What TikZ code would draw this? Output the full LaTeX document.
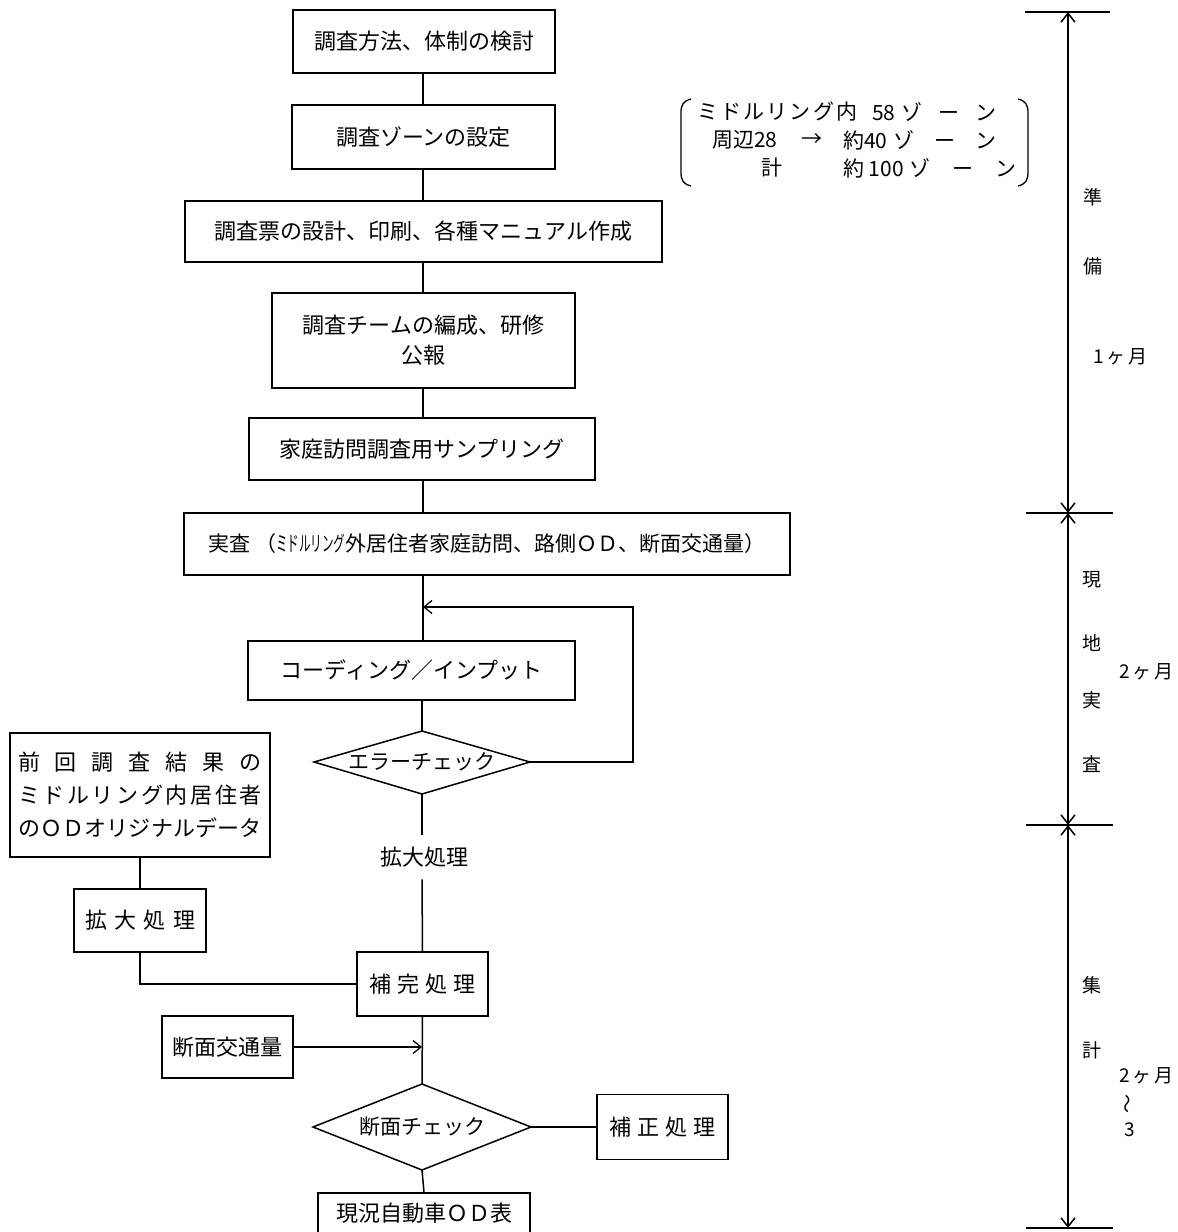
\documentclass[tikz,border=0pt]{standalone}
\usepackage{fontspec}
\setmainfont{Noto Sans CJK JP}
\usetikzlibrary{arrows.meta}
\begin{document}
\begin{tikzpicture}[x=1pt,y=-1pt,
  every node/.style={font=\fontsize{22}{30}\selectfont, inner sep=0pt},
  box/.style={draw, line width=1.5pt, align=center},
  dtext/.style={font=\fontsize{21}{26}\selectfont},
  conn/.style={line width=1.5pt},
  arr/.style={line width=1.3pt, -{Straight Barb[length=8pt,width=13pt]}},
  tlarr/.style={line width=1.5pt, {Straight Barb[length=9pt,width=14pt]}-{Straight Barb[length=9pt,width=14pt]}},
  tick/.style={line width=1.2pt},
  tlab/.style={font=\fontsize{19}{22}\selectfont},
  brk/.style={font=\fontsize{21}{24}\selectfont, anchor=west}]
\useasboundingbox (0,0) rectangle (1178,1232);
\fill[white] (0,0) rectangle (1178,1232);
\coordinate (ax) at (423,0);

% main flow boxes
\node[box, minimum width=262pt, minimum height=63pt] (b1) at (424,41.5) {調査方法、体制の検討};
\node[box, minimum width=263pt, minimum height=64pt] (b2) at (423.5,137) {調査ゾーンの設定};
\node[box, minimum width=477pt, minimum height=61pt] (b3) at (423.5,231.5) {調査票の設計、印刷、各種マニュアル作成};
\node[box, minimum width=303pt, minimum height=95pt] (b4) at (423.5,340.5) {調査チームの編成、研修\\公報};
\node[box, minimum width=346pt, minimum height=62pt] (b5) at (422,449) {家庭訪問調査用サンプリング};
\node[box, minimum width=606pt, minimum height=62pt, font=\fontsize{21}{26}\selectfont] (b6) at (487,544) {実査 （\scalebox{0.55}[1]{ミドルリング}外居住者家庭訪問、路側ＯＤ、断面交通量）};
\node[box, minimum width=327pt, minimum height=59pt] (b7) at (411.5,670.5) {コーディング／インプット};

% diamond 1
\node[dtext] (d1) at (422,762) {エラーチェック};
\coordinate (d1n) at (422,731);
\coordinate (d1s) at (422,794);
\coordinate (d1w) at (314,762);
\coordinate (d1e) at (530,762);
\draw[conn, line join=miter] (d1n) -- (d1e) -- (d1s) -- (d1w) -- cycle;

\node (k1) at (424,857) {拡大処理};
\node[box, minimum width=131pt, minimum height=64pt] (hk) at (422.5,984) {\makebox[106pt][s]{補\hfill 完\hfill 処\hfill 理}};

% diamond 2
\node[dtext] (d2) at (422,1127) {断面チェック};
\coordinate (d2n) at (422,1084);
\coordinate (d2s) at (422,1170);
\coordinate (d2w) at (313,1127);
\coordinate (d2e) at (531,1127);
\draw[conn, line join=miter] (d2n) -- (d2e) -- (d2s) -- (d2w) -- cycle;

\node[box, minimum width=212pt, minimum height=40pt] (od) at (424,1213) {現況自動車ＯＤ表};

% side boxes
\node[box, minimum width=260pt, minimum height=124pt, font=\fontsize{22}{33}\selectfont] (pv) at (140,795)
  {\makebox[244pt][s]{前\hfill 回\hfill 調\hfill 査\hfill 結\hfill 果\hfill の}\\
   \makebox[244pt][s]{ミ\hfil ド\hfil ル\hfil リ\hfil ン\hfil グ\hfil 内\hfil 居\hfil 住\hfil 者}\\
   \makebox[244pt][s]{の\hfil Ｏ\hfil Ｄ\hfil オ\hfil リ\hfil ジ\hfil ナ\hfil ル\hfil デ\hfil ー\hfil タ}};
\node[box, minimum width=132pt, minimum height=63pt] (kb) at (140,920.5) {\makebox[110pt][s]{拡\hfill 大\hfill 処\hfill 理}};
\node[box, minimum width=131pt, minimum height=62pt] (vol) at (227.5,1047) {断面交通量};
\node[box, minimum width=131pt, minimum height=65pt] (hs) at (662.5,1127) {\makebox[106pt][s]{補\hfill 正\hfill 処\hfill 理}};

% main connectors
\draw[conn] (b1.south -| ax) -- (b2.north -| ax);
\draw[conn] (b2.south -| ax) -- (b3.north -| ax);
\draw[conn] (b3.south -| ax) -- (b4.north -| ax);
\draw[conn] (b4.south -| ax) -- (b5.north -| ax);
\draw[conn] (b5.south -| ax) -- (b6.north -| ax);
\draw[conn] (b6.south -| ax) -- (b7.north -| ax);
\draw[conn] (b7.south -| d1n) -- (d1n);
\draw[conn] (d1s) -- ([yshift=12pt]k1.north -| d1s);
\draw[conn] ([yshift=-12pt]k1.south -| d1s) -- (hk.north);
\draw[conn] (hk.south) -- (d2n);
\draw[conn] (d2s) -- (od.north);
\draw[conn] (d2e) -- (hs.west);

% feedback loop
\coordinate (fbr) at (633,762);
\coordinate (fbt) at (633,607);
\coordinate (fbin) at (423,607);
\draw[conn] (d1e) -- (fbr) -- (fbt) -- ([xshift=-1pt]fbt -| fbin);
\draw[arr] (fbt) -- (fbin);

% side connectors
\draw[conn] (pv.south) -- (kb.north);
\coordinate (kc) at (140,984);
\draw[conn] (kb.south) -- (kc) -- (hk.west);
\coordinate (vin) at (422,1047);
\draw[arr] (vol.east) -- (vin);

% bracket note
\draw[line width=1.3pt] (691,99) .. controls (683,101) and (681,105) .. (681,113) -- (681,172) .. controls (681,180) and (683,184) .. (691,186);
\draw[line width=1.3pt] (1018,99) .. controls (1026,101) and (1028,105) .. (1028,113) -- (1028,172) .. controls (1028,180) and (1026,184) .. (1018,186);
\node[brk] (n1a) at (697,112) {\makebox[160pt][s]{ミ\hfill ド\hfill ル\hfill リ\hfill ン\hfill グ\hfill 内}};
\node[brk] (n1b) at (872,112) {\makebox[124pt][s]{58\hskip 6pt ゾ\hfill ー\hfill ン}};
\node[brk] (n2a) at (712,140) {周辺28};
\node[brk] (n2b) at (801,140) {→};
\node[brk] (n2c) at (843,140) {\makebox[153pt][s]{約40\hskip 6pt ゾ\hfill ー\hfill ン}};
\node[brk] (n3a) at (761,168) {計};
\node[brk] (n3b) at (843,168) {\makebox[173pt][s]{約 100\hskip 6pt ゾ\hfill ー\hfill ン}};

% timeline
\coordinate (tA) at (1068,12);
\coordinate (tB) at (1068,513);
\coordinate (tC) at (1068,825);
\coordinate (tD) at (1068,1228);
\draw[tlarr] (tA) -- (tB);
\draw[tlarr] (tB) -- (tC);
\draw[tlarr] (tC) -- (tD);
\draw[tick] (1025,12) -- (1110,12);
\draw[tick] (1026,513) -- (1113,513);
\draw[tick] (1026,825) -- (1113,825);
\draw[tick] (1026,1228) -- (1113,1228);
\node[tlab] (t1) at (1093,197) {準};
\node[tlab] (t2) at (1093,266) {備};
\node[tlab] (t3) at (1120,357) {\makebox[54pt][s]{1\hfill ヶ\hfill 月}};
\node[tlab] (t4) at (1092,580) {現};
\node[tlab] (t5) at (1092,643) {地};
\node[tlab] (t6) at (1146,672) {\makebox[54pt][s]{2\hfill ヶ\hfill 月}};
\node[tlab] (t7) at (1092,700) {実};
\node[tlab] (t8) at (1092,764) {査};
\node[tlab] (t9) at (1092,985) {集};
\node[tlab] (t10) at (1092,1050) {計};
\node[tlab] (t11) at (1146,1076) {\makebox[54pt][s]{2\hfill ヶ\hfill 月}};
\node[tlab, rotate=90] (t12) at (1130,1104) {〜};
\node[tlab] (t13) at (1130,1130) {3};
\end{tikzpicture}
\end{document}
